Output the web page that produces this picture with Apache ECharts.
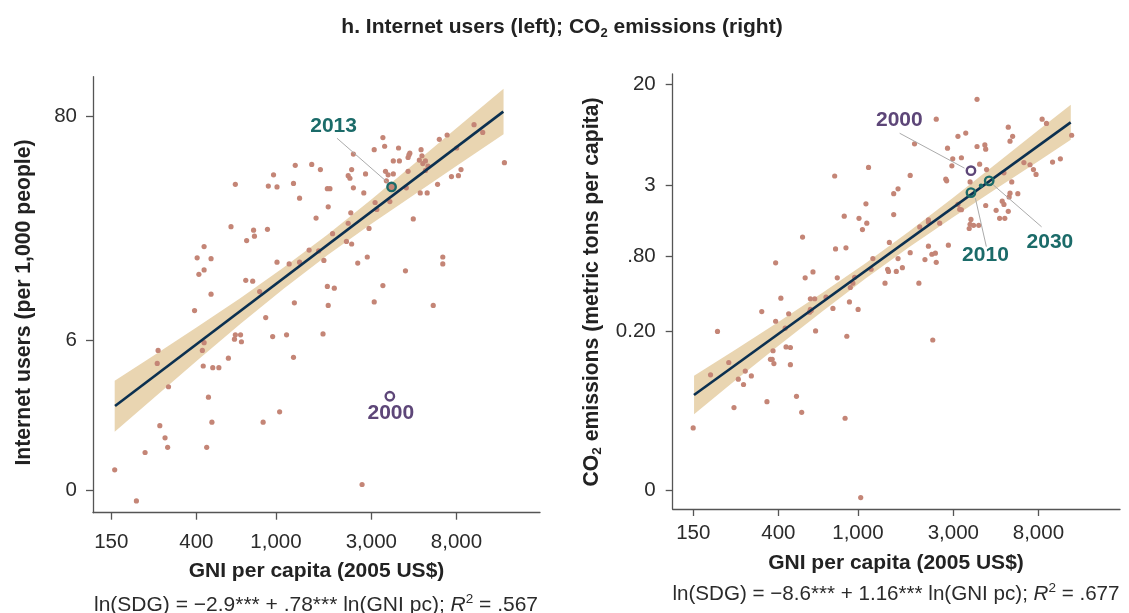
<!DOCTYPE html>
<html>
<head>
<meta charset="utf-8">
<script src="https://cdn.jsdelivr.net/npm/echarts@6/dist/echarts.min.js"></script>
<style>
html,body{margin:0;padding:0;background:#ffffff;}
#chart{width:1129px;height:613px;}
</style>
</head>
<body>
<div id="chart"></div>
<script>
// ---------- DATA (natural-log units, as plotted) ----------
const xTickValues = [150, 400, 1000, 3000, 8000];
const xTickLabels = ['150', '400', '1,000', '3,000', '8,000'];

const leftYTickLn = [0.066, Math.log(6), Math.log(80)];
const leftYTickLabels = ['0', '6', '80'];
const rightYTickLn = [-4.579, Math.log(0.2), Math.log(0.8), Math.log(3), Math.log(20)];
const rightYTickLabels = ['0', '0.20', '.80', '3', '20'];

// Left panel: ln(GNI per capita) and ln(Internet users per 1,000 people)
const lnGniInternet = [
  9.19,9.29,8.88,8.79,9.54,8.99,8.14,8.16,8.04,8.32,
  8.58,8.45,8.44,8.43,8.59,8.26,8.33,8.56,8.63,8.60,
  8.66,8.63,7.80,7.78,8.17,8.20,8.26,8.43,7.74,7.76,
  7.94,8.18,9.04,9.01,8.93,8.77,8.41,8.57,8.65,8.22,
  8.05,8.07,8.49,7.80,7.92,7.13,7.32,7.42,6.88,7.11,
  6.82,6.92,6.44,7.18,7.50,7.53,7.51,7.77,7.37,7.74,
  7.98,7.56,7.72,7.78,7.29,7.40,7.46,7.06,7.18,6.92,
  7.85,7.96,8.40,8.83,8.83,6.39,6.65,6.66,6.57,6.81,
  6.08,6.00,6.16,6.08,6.02,
  6.56,6.64,8.14,7.50,7.58,6.72,6.16,8.04,7.12,7.51,
  8.72,5.97,6.79,7.45,6.44,6.50,6.43,6.51,6.87,7.03,
  6.08,6.06,5.55,5.54,6.07,6.18,6.25,6.36,7.11,5.67,
  6.13,6.95,5.57,6.17,6.76,5.63,5.66,6.11,5.40,5.05,
  5.30,7.90
];
const lnInternetUsers = [
  4.29,4.20,4.17,4.12,3.85,4.02,4.14,4.04,4.00,4.02,
  4.00,3.96,3.94,3.91,3.93,3.87,3.87,3.88,3.87,3.84,
  3.81,3.76,3.95,3.77,3.75,3.71,3.72,3.75,3.70,3.67,
  3.72,3.64,3.77,3.70,3.69,3.60,3.56,3.50,3.50,3.40,
  3.39,3.31,3.20,3.56,3.50,3.82,3.83,3.77,3.71,3.61,
  3.58,3.57,3.60,3.44,3.55,3.55,3.34,3.27,3.21,3.15,
  3.09,3.03,2.94,2.91,2.84,2.83,2.72,2.68,2.70,2.70,
  2.69,2.76,2.60,2.76,2.68,3.11,3.07,3.00,2.95,3.08,
  2.88,2.75,2.74,2.61,2.56,
  2.49,2.48,2.43,2.42,2.40,2.36,2.33,2.24,2.23,2.20,
  2.20,2.14,2.06,1.87,1.86,1.86,1.81,1.78,1.84,1.86,
  1.77,1.68,1.68,1.53,1.50,1.48,1.48,1.59,1.60,1.26,
  1.14,0.97,0.81,0.85,0.85,0.67,0.56,0.56,0.50,0.30,
  -0.06,0.13
];
const fitLnGniInternet = [5.054, 9.527];
const fitLnInternet = [1.037, 4.44];
const bandLnGniInternet = [5.05, 5.5, 6.0, 6.5, 7.0, 7.5, 8.0, 8.5, 9.0, 9.53];
const bandLoInternet = [0.739, 1.131, 1.562, 1.987, 2.396, 2.780, 3.138, 3.479, 3.819, 4.180];
const bandHiInternet = [1.329, 1.621, 1.952, 2.287, 2.640, 3.016, 3.418, 3.839, 4.259, 4.704];
const internetHighlightYears = ['2013', '2000'];
const internetHighlightLnGni = [8.24, 8.22];
const internetHighlightLnValue = [3.57, 1.15];

// Right panel: ln(GNI per capita) and ln(CO2 emissions, metric tons per capita)
const lnGniCO2 = [
  8.28,7.81,9.03,9.08,8.64,8.69,8.66,8.06,8.15,7.56,
  7.94,8.28,8.37,8.38,8.00,8.10,7.99,8.31,8.39,8.82,
  8.89,8.93,8.96,9.15,9.24,9.37,6.64,7.03,7.51,7.92,
  7.93,7.37,7.32,8.59,8.68,8.66,8.75,8.65,8.57,8.59,
  8.50,8.64,8.54,8.60,8.38,8.20,7.00,6.75,6.92,7.01,
  6.96,7.32,8.06,8.08,8.10,8.21,8.20,8.24,8.30,8.19,
  7.72,7.72,7.62,7.85,6.27,6.65,6.77,7.27,7.72,7.95,
  7.51,7.68,7.76,7.80,7.81,7.37,7.42,7.35,7.25,7.26,
  7.08,7.06,5.96,6.39,6.30,6.67,6.87,
  7.22,7.61,6.85,6.82,6.02,6.36,6.41,6.54,6.81,6.62,
  6.91,6.36,6.37,6.35,5.80,6.11,5.96,6.07,5.29,6.42,
  6.78,7.77,6.08,6.13,5.93,5.90,5.92,5.94,6.13,5.42,
  5.21,5.61,5.68,5.53,5.59,6.20,5.86,5.48,6.26,6.76,
  5.01,6.94
];
const lnCO2 = [
  2.71,2.34,2.34,2.26,2.19,2.02,1.93,2.02,2.08,1.88,
  1.80,1.83,1.86,1.78,1.60,1.62,1.47,1.50,1.40,1.53,
  1.49,1.40,1.31,1.54,1.60,2.04,1.28,1.44,1.29,1.22,
  1.19,1.04,0.95,1.34,1.17,0.96,0.95,0.89,0.81,0.75,
  0.64,0.62,0.49,0.49,0.73,1.17,0.76,0.53,0.49,0.40,
  0.28,0.56,0.75,0.66,0.65,0.47,0.38,0.36,0.36,0.30,
  0.46,0.42,0.33,0.40,0.14,-0.08,-0.06,0.04,-0.03,-0.01,
  -0.15,-0.28,-0.18,-0.16,-0.33,-0.26,-0.43,-0.50,-0.46,-0.50,
  -0.26,-0.46,-0.34,-0.51,-0.62,-0.62,-0.61,
  -0.72,-0.72,-0.72,-0.80,-1.00,-1.01,-1.01,-0.98,-1.07,-1.19,
  -1.21,-1.21,-1.23,-1.26,-1.25,-1.29,-1.43,-1.56,-1.62,-1.61,
  -1.71,-1.78,-1.91,-1.92,-1.98,-2.14,-2.14,-2.22,-2.24,-2.20,
  -2.43,-2.36,-2.45,-2.51,-2.61,-2.83,-2.93,-3.04,-3.13,-3.24,
  -3.42,-4.72
];
const fitLnGniCO2 = [5.019, 9.359];
const fitLnCO2 = [-2.806, 2.281];
const bandLnGniCO2 = [5.02, 5.5, 6.0, 6.5, 7.0, 7.5, 8.0, 8.5, 9.0, 9.36];
const bandLoCO2 = [-3.163, -2.527, -1.878, -1.242, -0.627, -0.044, 0.507, 1.041, 1.567, 1.955];
const bandHiCO2 = [-2.447, -1.957, -1.434, -0.898, -0.341, 0.248, 0.869, 1.507, 2.153, 2.609];
const co2HighlightYears = ['2000', '2010', '2030'];
const co2HighlightLnGni = [8.21, 8.21, 8.42];
const co2HighlightLnValue = [1.38, 0.97, 1.19];
const co2PathLnGni = [8.326];     // unlabeled intermediate point on the projection path
const co2PathLnValue = [1.099];

// ---------- STYLE ----------
const FONT = "'Liberation Sans', Arial, Helvetica, sans-serif";
const DOT = '#c48576';
const BAND = '#e9d5b1';
const FIT = '#0b3050';
const TEAL = '#1b6b69';
const PURPLE = '#5d4678';
const AXIS = '#555555';
const TXT = '#2b2b2b';

// label placement (pixel offsets from the highlighted point)
const internetNoteStyle = [
  {color: TEAL, fill: DOT, text: [-58, -61], lead: [-54.6, -48.7, -4, -4.5]},
  {color: PURPLE, fill: 'none', text: [1, 17], lead: null}
];
const co2NoteStyle = [
  {color: PURPLE, fill: 'none', text: [-71.6, -50.7], lead: [-71.3, -37.4, -6.5, -2.5]},
  {color: TEAL, fill: 'none', text: [14.5, 63], lead: [15.4, 54, 4.4, 5.5]},
  {color: TEAL, fill: 'none', text: [60.7, 61.8], lead: [52.4, 46, 4, 4]}
];

function tickFormatter(vals, labels) {
  return function (v) {
    let best = -1, bd = 1e9;
    vals.forEach((t, i) => { const d = Math.abs(t - v); if (d < bd) { bd = d; best = i; } });
    return bd < 1e-3 ? labels[best] : '';
  };
}
const xTickLn = xTickValues.map(Math.log);

function xAxisCfg(gridIndex, min, max, margin) {
  return {
    type: 'value', gridIndex, min, max,
    axisLine: {show: true, onZero: false, lineStyle: {color: AXIS, width: 1.3}},
    axisTick: {show: true, inside: false, length: 7, customValues: xTickLn, lineStyle: {color: AXIS, width: 1.3}},
    axisLabel: {show: true, customValues: xTickLn, formatter: tickFormatter(xTickLn, xTickLabels),
      margin, color: TXT, fontSize: 20.5, fontFamily: FONT},
    splitLine: {show: false}
  };
}
function yAxisCfg(gridIndex, min, max, ticks, labels, margin) {
  return {
    type: 'value', gridIndex, min, max,
    axisLine: {show: true, onZero: false, lineStyle: {color: AXIS, width: 1.3}},
    axisTick: {show: true, inside: false, length: 7, customValues: ticks, lineStyle: {color: AXIS, width: 1.3}},
    axisLabel: {show: true, customValues: ticks, formatter: tickFormatter(ticks, labels),
      margin, color: TXT, fontSize: 20.5, fontFamily: FONT},
    splitLine: {show: false}
  };
}

function bandSeries(idx, bx, lo, hi) {
  return {
    type: 'custom', xAxisIndex: idx, yAxisIndex: idx, z: 1, silent: true,
    data: bx.map((x, i) => [x, lo[i], hi[i]]),
    encode: {x: 0, y: [1, 2]},
    renderItem: function (params, api) {
      if (params.dataIndex !== 0) return null;
      const pts = [];
      for (let i = 0; i < bx.length; i++) pts.push(api.coord([bx[i], hi[i]]));
      for (let i = bx.length - 1; i >= 0; i--) pts.push(api.coord([bx[i], lo[i]]));
      return {type: 'polygon', shape: {points: pts}, style: {fill: BAND}};
    }
  };
}
function dotSeries(idx, xs, ys, color, size, z) {
  return {
    type: 'scatter', xAxisIndex: idx, yAxisIndex: idx, z: z, silent: true,
    symbol: 'circle', symbolSize: size,
    itemStyle: {color: color, opacity: 1},
    data: xs.map((x, i) => [x, ys[i]])
  };
}
function fitSeries(idx, xs, ys) {
  return {
    type: 'line', xAxisIndex: idx, yAxisIndex: idx, z: 3, silent: true,
    symbol: 'none', lineStyle: {color: FIT, width: 2.6},
    data: xs.map((x, i) => [x, ys[i]])
  };
}
function noteSeries(idx, xs, ys, years, styles) {
  return {
    type: 'custom', xAxisIndex: idx, yAxisIndex: idx, z: 5, silent: true,
    data: xs.map((x, i) => [x, ys[i]]),
    renderItem: function (params, api) {
      const i = params.dataIndex;
      const p = api.coord([api.value(0), api.value(1)]);
      const s = styles[i];
      const children = [];
      if (s.lead) {
        children.push({type: 'line', shape: {x1: p[0] + s.lead[0], y1: p[1] + s.lead[1], x2: p[0] + s.lead[2], y2: p[1] + s.lead[3]},
          style: {stroke: '#ababab', lineWidth: 1}});
      }
      children.push({type: 'circle', shape: {cx: p[0], cy: p[1], r: 4.2}, style: {fill: s.fill, stroke: s.color, lineWidth: 2.4}});
      children.push({type: 'text', x: p[0] + s.text[0], y: p[1] + s.text[1],
        style: {text: years[i], fill: s.color, fontSize: 21, fontWeight: 'bold', fontFamily: FONT, align: 'center', verticalAlign: 'middle'}});
      return {type: 'group', children};
    }
  };
}

function rich(extra) { return Object.assign({fontSize: 21, fontFamily: FONT, lineHeight: 25, fill: TXT}, extra); }

const chart = echarts.init(document.getElementById('chart'), null, {renderer: 'canvas'});
chart.setOption({
  animation: false,
  backgroundColor: '#ffffff',
  grid: [
    {left: 93, top: 76.7, width: 447, height: 436},
    {left: 672.7, top: 74, width: 447.3, height: 435}
  ],
  xAxis: [
    xAxisCfg(0, 4.800, 9.950, 19),
    xAxisCfg(1, 4.774, 9.927, 14)
  ],
  yAxis: [
    yAxisCfg(0, -0.196, 4.844, leftYTickLn, leftYTickLabels, 16),
    yAxisCfg(1, -4.933, 3.183, rightYTickLn, rightYTickLabels, 17)
  ],
  series: [
    bandSeries(0, bandLnGniInternet, bandLoInternet, bandHiInternet),
    dotSeries(0, lnGniInternet, lnInternetUsers, DOT, 5.2, 2),
    fitSeries(0, fitLnGniInternet, fitLnInternet),
    noteSeries(0, internetHighlightLnGni, internetHighlightLnValue, internetHighlightYears, internetNoteStyle),
    bandSeries(1, bandLnGniCO2, bandLoCO2, bandHiCO2),
    dotSeries(1, lnGniCO2, lnCO2, DOT, 5.2, 2),
    fitSeries(1, fitLnGniCO2, fitLnCO2),
    dotSeries(1, co2PathLnGni, co2PathLnValue, TEAL, 4.5, 4),
    noteSeries(1, co2HighlightLnGni, co2HighlightLnValue, co2HighlightYears, co2NoteStyle)
  ],
  graphic: [
    {type: 'text', x: 562, y: 27, silent: true,
      style: {text: '{b|h. Internet users (left); CO}{s|2}{b| emissions (right)}', align: 'center', verticalAlign: 'middle',
        rich: {b: rich({fontWeight: 'bold', fill: '#222'}), s: rich({fontWeight: 'bold', fontSize: 13, lineHeight: 12, verticalAlign: 'bottom', fill: '#222'})}}},
    {type: 'text', x: 24, y: 302.5, rotation: Math.PI / 2, silent: true,
      style: {text: 'Internet users (per 1,000 people)', fill: '#222', fontSize: 21.2, fontWeight: 'bold', fontFamily: FONT, align: 'center', verticalAlign: 'middle'}},
    {type: 'text', x: 591.7, y: 292, rotation: Math.PI / 2, silent: true,
      style: {text: '{b|CO}{s|2}{b| emissions (metric tons per capita)}', align: 'center', verticalAlign: 'middle',
        rich: {b: rich({fontWeight: 'bold', fill: '#222', fontSize: 21.2, lineHeight: 25}), s: rich({fontWeight: 'bold', fontSize: 13.5, lineHeight: 12, verticalAlign: 'bottom', fill: '#222'})}}},
    {type: 'text', x: 316.5, y: 571, silent: true,
      style: {text: 'GNI per capita (2005 US$)', fill: '#222', fontSize: 21, fontWeight: 'bold', fontFamily: FONT, align: 'center', verticalAlign: 'middle'}},
    {type: 'text', x: 896, y: 563, silent: true,
      style: {text: 'GNI per capita (2005 US$)', fill: '#222', fontSize: 21, fontWeight: 'bold', fontFamily: FONT, align: 'center', verticalAlign: 'middle'}},
    {type: 'text', x: 316, y: 605, silent: true,
      style: {text: '{n|ln(SDG) = \u22122.9*** + .78*** ln(GNI pc); }{i|R}{p|2}{n| = .567}', align: 'center', verticalAlign: 'middle',
        rich: {n: rich({}), i: rich({fontStyle: 'italic'}), p: rich({fontSize: 13.5, lineHeight: 17, verticalAlign: 'top'})}}},
    {type: 'text', x: 896, y: 594, silent: true,
      style: {text: '{n|ln(SDG) = \u22128.6*** + 1.16*** ln(GNI pc); }{i|R}{p|2}{n| = .677}', align: 'center', verticalAlign: 'middle',
        rich: {n: rich({fontSize: 20.6}), i: rich({fontStyle: 'italic', fontSize: 20.6}), p: rich({fontSize: 13.5, lineHeight: 17, verticalAlign: 'top'})}}}
  ]
});
</script>
</body>
</html>
